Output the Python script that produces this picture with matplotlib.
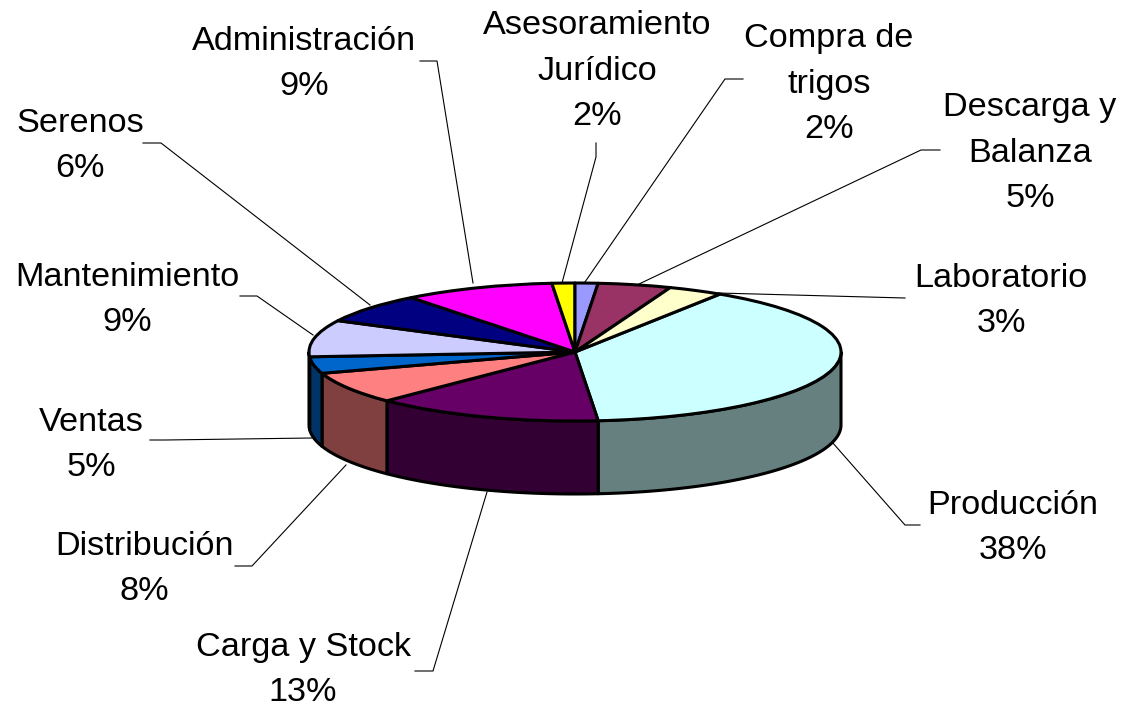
# -*- coding: utf-8 -*-
"""Torta 3D de costos por sector, dibujada con ax.pie y caras laterales."""

import numpy as np
import matplotlib
matplotlib.use("Agg")
import matplotlib.pyplot as plt
from matplotlib.patches import Polygon

plt.rcParams["font.family"] = ["Liberation Sans", "DejaVu Sans"]

# Datos, en sentido horario desde Producción
SECTORS = ["Producción", "Carga y Stock", "Distribución", "Ventas",
           "Mantenimiento", "Serenos", "Administración",
           "Asesoramiento\nJurídico", "Compra de\ntrigos",
           "Descarga y\nBalanza", "Laboratorio"]
PERCENT_LABELS = [38, 13, 8, 5, 9, 6, 9, 2, 2, 5, 3]
# tamaño de cada porción tal como se lee en la imagen (grados)
SLICE_DEGREES = [142, 50, 27, 14, 31, 25, 33, 5, 5, 16, 12]
TOP_COLORS = ["#CCFFFF", "#660066", "#FF8080", "#0066CC", "#CCCCFF", "#000080",
              "#FF00FF", "#FFFF00", "#9999FF", "#993366", "#FFFFCC"]
SIDE_COLORS = ["#668080", "#330033", "#804040", "#003366", "#666680", "#000040",
               "#800080", "#808000", "#4C4C80", "#4C1933", "#808066"]

# Posición de los textos y guías (píxeles de la imagen)
LABEL_XY = [(1013, 528), (303, 670), (144, 569), (91, 445), (127, 300), (80, 146),
            (304, 64), (597, 71), (829, 84), (1030, 153), (1001, 301)]
LEADERS = [
    [(920, 525), (905, 525), (832, 442)],
    [(415, 671), (433, 671), (487, 492)],
    [(235, 566), (252, 566), (346, 465)],
    [(150, 440), (165, 440), (312, 438)],
    [(240, 296), (257, 296), (313, 335)],
    [(143, 143), (161, 143), (370, 305)],
    [(420, 61), (437, 61), (473, 283)],
    [(596, 143), (596, 157), (562, 283)],
    [(743, 79), (725, 79), (585, 282)],
    [(940, 150), (921, 150), (639, 284)],
    [(905, 298), (718, 293)],
]

W, H = 1121, 709
CX, CY, RX, RY = 575, 352, 266, 69
DEPTH = 73 / RY
START_ANGLE = 57
EDGE_LW = 2.2


def draw_sides(ax):
    """Caras laterales de las porciones que miran hacia adelante."""
    edges = START_ANGLE - np.cumsum([0] + SLICE_DEGREES)
    for i, color in enumerate(SIDE_COLORS):
        # parte visible: entre 0 y -180 grados
        a0 = min(edges[i], 0)
        a1 = max(edges[i + 1], -180)
        if a0 <= a1:
            continue
        t = np.radians(np.linspace(a0, a1, 80))
        x, y = np.cos(t), np.sin(t)
        pts = np.r_[np.c_[x, y], np.c_[x[::-1], y[::-1] - DEPTH]]
        ax.add_patch(Polygon(pts, closed=True, facecolor=color, edgecolor="black",
                             lw=EDGE_LW, joinstyle="round"))


def main():
    fig = plt.figure(figsize=(W / 100, H / 100), dpi=100)

    # Ejes en píxeles para textos y guías
    ax_txt = fig.add_axes([0, 0, 1, 1])
    ax_txt.set_xlim(0, W)
    ax_txt.set_ylim(H, 0)
    ax_txt.axis("off")

    for sector, pct, (x, y), leader in zip(SECTORS, PERCENT_LABELS, LABEL_XY, LEADERS):
        ax_txt.text(x, y, f"{sector}\n{pct}%", ha="center", va="center",
                    fontsize=24.7, linespacing=1.62, color="black")
        xs, ys = zip(*leader)
        ax_txt.plot(xs, ys, color="black", lw=0.8)

    # Ejes de la torta: una unidad equivale al radio de la elipse
    ax = fig.add_axes([0, 0, 1, 1])
    draw_sides(ax)
    ax.pie(SLICE_DEGREES, colors=TOP_COLORS, startangle=START_ANGLE, counterclock=False,
           wedgeprops={"edgecolor": "black", "linewidth": EDGE_LW, "joinstyle": "round"})
    ax.set_xlim(-CX / RX, (W - CX) / RX)
    ax.set_ylim((CY - H) / RY, CY / RY)
    ax.set_aspect("auto")
    ax.patch.set_visible(False)

    fig.savefig("out.png", dpi=100)
    plt.close(fig)


if __name__ == "__main__":
    main()
